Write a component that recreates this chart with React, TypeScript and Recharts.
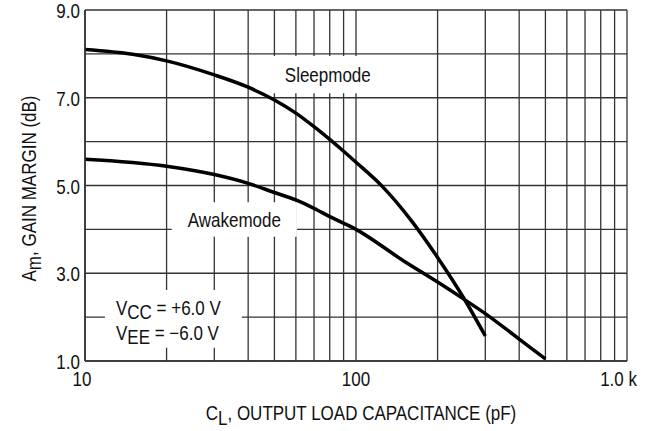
import React from "react";
import {
  LineChart,
  Line,
  XAxis,
  YAxis,
  CartesianGrid,
  ReferenceArea,
} from "recharts";

const FONT = "'Liberation Sans', Arial, sans-serif";
const SX = 0.85; // the original uses a narrow face, so squeeze the text a bit

// C_L (pF) -> A_m (dB)
const sleepCap = [10, 15, 20, 30, 40, 50, 60, 70, 80, 90, 100, 125, 160, 200, 250, 300];
const sleepGain = [8.1, 7.99, 7.84, 7.52, 7.24, 6.95, 6.65, 6.34, 6.05, 5.78, 5.53, 4.98, 4.2, 3.36, 2.43, 1.57];

const awakeCap = [10, 20, 30, 40, 50, 60, 70, 80, 100, 150, 200, 250, 300, 400, 500];
const awakeGain = [5.6, 5.44, 5.25, 5.05, 4.84, 4.67, 4.48, 4.29, 4.0, 3.28, 2.8, 2.41, 2.08, 1.5, 1.05];

const xTicks = [10, 20, 30, 40, 50, 60, 70, 80, 90, 100, 200, 300, 400, 500, 600, 700, 800, 900, 1000];
const xLabels: Record<number, string> = { 10: "10", 100: "100", 1000: "1.0 k" };
const yTicks = [1, 2, 3, 4, 5, 6, 7, 8, 9];
const yLabels: Record<number, string> = { 1: "1.0", 3: "3.0", 5: "5.0", 7: "7.0", 9: "9.0" };

const sleepData = sleepCap.map((c, i) => ({ cap: c, gain: sleepGain[i] }));
const awakeData = awakeCap.map((c, i) => ({ cap: c, gain: awakeGain[i] }));

const SText = ({ x, y, anchor = "start", rotate = false, baseline, children }: any) => (
  <text
    transform={`translate(${x},${y})${rotate ? " rotate(-90)" : ""} scale(${SX},1)`}
    textAnchor={anchor}
    dominantBaseline={baseline}
    fontFamily={FONT}
    fontSize={20}
    fill="#111"
  >
    {children}
  </text>
);

const XTick = (props: any) => {
  const { x, y, payload } = props;
  const label = xLabels[payload.value];
  if (!label) return null;
  const anchor = payload.value === 1000 ? "end" : "middle";
  const dx = payload.value === 1000 ? 10 : payload.value === 10 ? -3 : 0;
  return (
    <SText x={x + dx} y={y + 18} anchor={anchor} baseline="central">
      {label}
    </SText>
  );
};

const YTick = (props: any) => {
  const { x, y, payload } = props;
  const label = yLabels[payload.value];
  if (!label) return null;
  return (
    <SText x={x - 5} y={y + 1} anchor="end" baseline="central">
      {label}
    </SText>
  );
};

const XTitle = (props: any) => {
  const vb = props.viewBox;
  return (
    <SText x={vb.x + vb.width / 2 + 5} y={vb.y + 59} anchor="middle">
      C<tspan dy={5}>L</tspan>
      <tspan dy={-5}>, OUTPUT LOAD CAPACITANCE (pF)</tspan>
    </SText>
  );
};

const YTitle = (props: any) => {
  const vb = props.viewBox;
  return (
    <SText x={36} y={vb.y + vb.height / 2 + 3} anchor="middle" rotate>
      A<tspan dy={5}>m</tspan>
      <tspan dy={-5}>, GAIN MARGIN (dB)</tspan>
    </SText>
  );
};

const BoxText = (text: string) => (props: any) => {
  const vb = props.viewBox;
  return (
    <SText x={vb.x + vb.width / 2} y={vb.y + vb.height / 2 + 7} anchor="middle">
      {text}
    </SText>
  );
};

const SupplyText = (props: any) => {
  const vb = props.viewBox;
  const x = vb.x + 11;
  return (
    <g>
      <SText x={x} y={vb.y + 25}>
        V<tspan dy={4}>CC</tspan>
        <tspan dy={-4}> = +6.0 V</tspan>
      </SText>
      <SText x={x} y={vb.y + 50}>
        V<tspan dy={4}>EE</tspan>
        <tspan dy={-4}> = −6.0 V</tspan>
      </SText>
    </g>
  );
};

export default function App() {
  return (
    <div style={{ position: "absolute", left: 0, top: 0, background: "#fff" }}>
      <LineChart width={653} height={431} margin={{ top: 10, right: 26, bottom: 0, left: 0 }}>
        <CartesianGrid stroke="#333" strokeWidth={1.3} />
        <XAxis
          dataKey="cap"
          type="number"
          scale="log"
          domain={[10, 1000]}
          ticks={xTicks}
          allowDataOverflow
          height={70}
          tickSize={0}
          tickMargin={0}
          tickLine={false}
          axisLine={{ stroke: "#333", strokeWidth: 1.6 }}
          tick={<XTick />}
          interval={0}
          label={{ content: <XTitle /> }}
        />
        <YAxis
          dataKey="gain"
          type="number"
          domain={[1, 9]}
          ticks={yTicks}
          allowDataOverflow
          width={85}
          tickSize={0}
          tickMargin={0}
          tickLine={false}
          axisLine={{ stroke: "#333", strokeWidth: 1.6 }}
          tick={<YTick />}
          interval={0}
          label={{ content: <YTitle /> }}
        />
        <ReferenceArea x1={48} x2={129} y1={7.1} y2={7.95} fill="#fff" fillOpacity={1} stroke="none" label={BoxText("Sleepmode")} />
        <ReferenceArea x1={20.9} x2={60.5} y1={3.83} y2={4.62} fill="#fff" fillOpacity={1} stroke="none" label={BoxText("Awakemode")} />
        <ReferenceArea x1={11.85} x2={37.9} y1={1.3} y2={2.62} fill="#fff" fillOpacity={1} stroke="none" label={SupplyText} />
        <Line data={sleepData} dataKey="gain" type="monotone" stroke="#000" strokeWidth={3.5} dot={false} isAnimationActive={false} />
        <Line data={awakeData} dataKey="gain" type="monotone" stroke="#000" strokeWidth={3.5} dot={false} isAnimationActive={false} />
      </LineChart>
    </div>
  );
}
